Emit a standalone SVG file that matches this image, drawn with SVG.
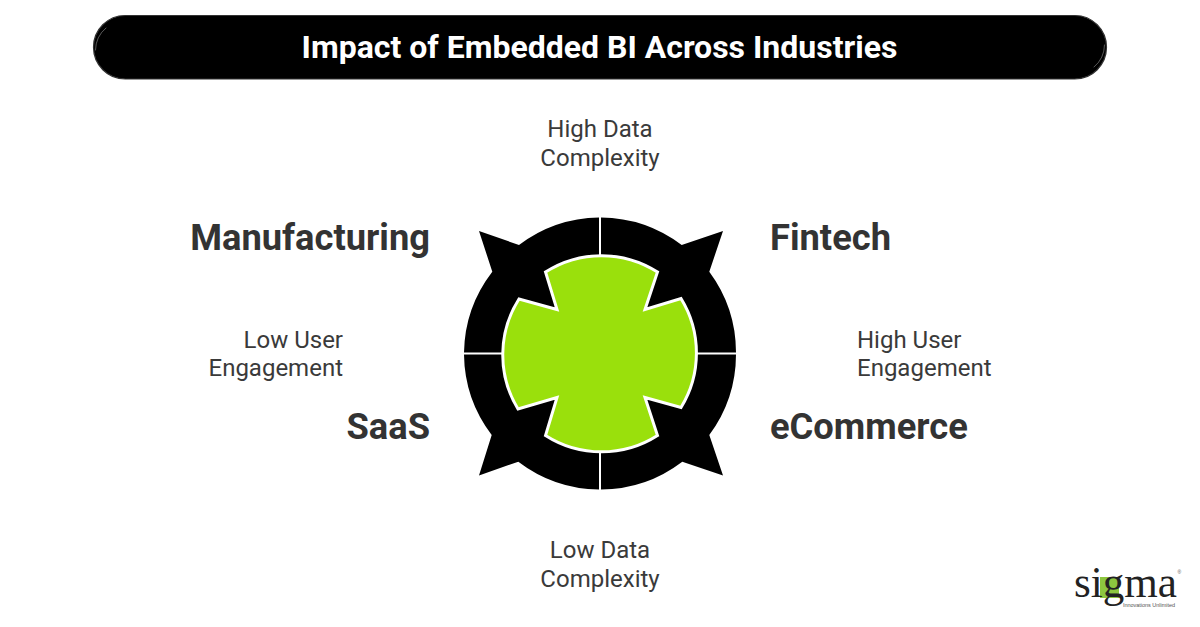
<svg xmlns="http://www.w3.org/2000/svg" width="1200" height="627" viewBox="0 0 1200 627">
<style>
.t{font-family:Roboto,"Liberation Sans",sans-serif}
.axis{font-size:24px;fill:#3a3a3a}
.ind{font-size:36.300px;font-weight:700;fill:#333}
.q{fill:#000}
.gloss{fill:none;stroke:#fff;stroke-width:1;stroke-linecap:round;opacity:.35}
</style>
<rect width="1200" height="627" fill="#fff"/>
<g id="title">
<rect x="93.500" y="15.500" width="1013" height="63.500" rx="31.700" fill="#000" stroke="#333" stroke-width="1.200"/>
<path class="gloss" d="M95.500 50A29 29 0 0 1 106 28"/>
<path class="gloss" d="M1104.500 45A29 29 0 0 1 1094 67"/>
<text class="t" x="599.500" y="58" text-anchor="middle" font-size="32" font-weight="700" fill="#fff">Impact of Embedded BI Across Industries</text>
</g>
<g id="wheel">
<path id="q-tl" class="q" d="M599 217.500A136 136 0 0 0 519 245L479 231L492.300 271.700A136 136 0 0 0 464 352.500H599Z"/>
<path id="q-tr" class="q" d="M601 217.500A136 136 0 0 1 681.700 245L723 231L709.300 271.700A136 136 0 0 1 736 352.500H601Z"/>
<path id="q-bl" class="q" d="M599 489.500A136 136 0 0 1 518.300 461.700L479 475.500L491.700 435A136 136 0 0 1 464 354.500H599Z"/>
<path id="q-br" class="q" d="M601 489.500A136 136 0 0 0 682.300 461.700L723 475.500L709.300 435A136 136 0 0 0 736 354.500H601Z"/>
<path id="core" fill="#9ae00c" stroke="#fff" stroke-width="3" stroke-linejoin="miter" d="M545.500 272A104 104 0 0 1 657.500 272L645 309.500L681 298.500A104 104 0 0 1 681 407.500L645 397.500L657.500 435.500A104 104 0 0 1 545.500 435.500L557 397.500L518 409A104 104 0 0 1 519 299L557 309.500Z"/>
</g>
<g id="axis-top"><text class="t axis" x="600" y="137" text-anchor="middle">High Data</text><text class="t axis" x="600" y="166" text-anchor="middle">Complexity</text></g>
<g id="axis-bottom"><text class="t axis" x="600" y="558" text-anchor="middle">Low Data</text><text class="t axis" x="600" y="587" text-anchor="middle">Complexity</text></g>
<g id="axis-left"><text class="t axis" x="343" y="348" text-anchor="end">Low User</text><text class="t axis" x="343" y="376" text-anchor="end">Engagement</text></g>
<g id="axis-right"><text class="t axis" x="857" y="348">High User</text><text class="t axis" x="857" y="376">Engagement</text></g>
<g id="manufacturing"><text class="t ind" x="430" y="249.500" text-anchor="end">Manufacturing</text></g>
<g id="fintech"><text class="t ind" x="770" y="249.500">Fintech</text></g>
<g id="saas"><text class="t ind" x="430" y="438.500" text-anchor="end">SaaS</text></g>
<g id="ecommerce"><text class="t ind" x="770" y="438.500">eCommerce</text></g>
<g id="logo">
<rect x="1100" y="577" width="19" height="21" fill="#8dc63f"/>
<text x="1074" y="597" font-family="'Liberation Serif',serif" font-size="44" fill="#222" textLength="103" lengthAdjust="spacingAndGlyphs">sigma</text>
<text x="1123" y="607" font-family="'Liberation Sans',sans-serif" font-size="5.500" fill="#555" textLength="52">Innovations Unlimited</text>
<text x="1177.500" y="574" font-family="'Liberation Sans',sans-serif" font-size="5" fill="#555">®</text>
</g>
</svg>
